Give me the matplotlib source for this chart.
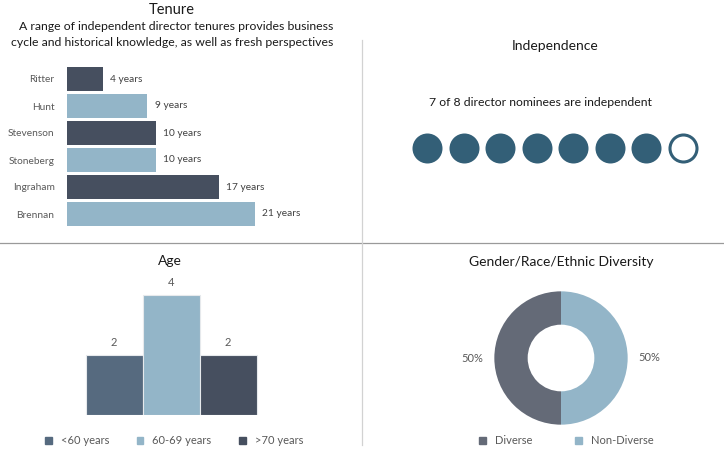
import matplotlib
matplotlib.use("Agg")
import matplotlib.pyplot as plt
from matplotlib.lines import Line2D
from matplotlib.patches import Patch

plt.rcParams['font.family'] = ['Lato', 'DejaVu Sans']

# data
directors = ["Ritter", "Hunt", "Stevenson", "Stoneberg", "Ingraham", "Brennan"]
tenure_years = [4, 9, 10, 10, 17, 21]

nominees_total = 8
nominees_independent = 7

age_groups = ["<60 years", "60-69 years", ">70 years"]
age_counts = [2, 4, 2]

diversity_labels = ["Diverse", "Non-Diverse"]
diversity_share = [50, 50]

DARK = "#464f5f"
LIGHT = "#93b5c8"
SLATE = "#566a7f"
TEAL = "#335f77"
GREY = "#646a77"
TXT = "#595959"

W, H = 724, 450
fig = plt.figure(figsize=(W / 100, H / 100), dpi=100)


def px_axes(x0, y0, x1, y1):
    # axes from pixel box (top-left origin)
    return fig.add_axes([x0 / W, 1 - y1 / H, (x1 - x0) / W, (y1 - y0) / H])


def ftext(x, y, s, **kw):
    fig.text(x / W, 1 - y / H, s, ha="center", va="center", **kw)


# ---- Tenure ----
ftext(172, 10, "Tenure", fontsize=10.5, color="#1a1a1a")
ftext(176, 26, "A range of independent director tenures provides business", fontsize=8.8, color="#1a1a1a")
ftext(172, 42, "cycle and historical knowledge, as well as fresh perspectives", fontsize=8.8, color="#1a1a1a")

ax = px_axes(67, 65.5, 335, 227.5)
cols = [DARK if i % 2 == 0 else LIGHT for i in range(len(directors))]
ax.barh(range(len(directors)), tenure_years, height=0.9, color=cols)
ax.set_xlim(0, 30)
ax.set_ylim(5.5, -0.5)
ax.set_yticks(range(len(directors)))
ax.set_yticklabels(directors, fontsize=7.3, color=TXT)
ax.tick_params(axis="y", length=0, pad=9)
ax.set_xticks([])
for s in ax.spines.values():
    s.set_visible(False)
for i, v in enumerate(tenure_years):
    ax.text(v + 0.8, i, f"{v} years", va="center", ha="left", fontsize=7.3, color="#404040")

# ---- Independence ----
ftext(555, 46, "Independence", fontsize=10, color="#1a1a1a")
ftext(540, 103, f"{nominees_independent} of {nominees_total} director nominees are independent",
      fontsize=8.8, color="#1a1a1a")
ax = px_axes(399.5, 130, 710.5, 166)
xs = list(range(nominees_total))
ax.scatter(xs[:nominees_independent], [0] * nominees_independent, s=(30 * 0.72) ** 2,
           color=TEAL, linewidths=0)
ax.scatter(xs[nominees_independent:], [0] * (nominees_total - nominees_independent),
           s=(27 * 0.72) ** 2, facecolor="white", edgecolor=TEAL, linewidths=2.2)
ax.set_xlim(-0.75, 7.75)
ax.set_ylim(-1, 1)
ax.axis("off")

# ---- Age ----
ftext(170, 261, "Age", fontsize=10, color="#1a1a1a")
ax = px_axes(28.5, 265, 313.5, 415)
bars = ax.bar(range(len(age_groups)), age_counts, width=1.0, color=[SLATE, LIGHT, DARK],
              edgecolor="#e6e9ec", linewidth=0.8)
ax.set_xlim(-1.5, 3.5)
ax.set_ylim(0, 5)
ax.axis("off")
for i, v in enumerate(age_counts):
    ax.text(i, v + 0.4, str(v), ha="center", va="center", fontsize=8, color=TXT)
handles = [Patch(color=c) for c in [SLATE, LIGHT, DARK]]
fig.legend(handles, age_groups, loc="center left", bbox_to_anchor=(35 / W, 1 - 441 / H),
           ncol=3, frameon=False, fontsize=8, handlelength=0.6, handleheight=0.6,
           handletextpad=0.8, columnspacing=2.5, labelcolor=TXT)

# ---- Diversity ----
ftext(561, 262, "Gender/Race/Ethnic Diversity", fontsize=10, color="#1a1a1a")
ax = px_axes(481, 278, 641, 438)
ax.pie(diversity_share, colors=[GREY, LIGHT], startangle=90, counterclock=True,
       wedgeprops=dict(width=0.5, linewidth=0),
       autopct=lambda p: f"{p:.0f}%", pctdistance=1.33,
       textprops=dict(fontsize=8, color=TXT))
ax.set_xlim(-1.2, 1.2)
ax.set_ylim(-1.2, 1.2)
ax.set_aspect("equal")
handles = [Patch(color=c) for c in [GREY, LIGHT]]
fig.legend(handles, diversity_labels, loc="center left", bbox_to_anchor=(469 / W, 1 - 441 / H),
           ncol=2, frameon=False, fontsize=8, handlelength=0.6, handleheight=0.6,
           handletextpad=0.8, columnspacing=3.9, labelcolor=TXT)

# dividers
fig.add_artist(Line2D([0, 1], [1 - 243 / H] * 2, transform=fig.transFigure, color="#9a9a9a", lw=0.9))
fig.add_artist(Line2D([362 / W] * 2, [1 - 40 / H, 1 - 445 / H], transform=fig.transFigure,
                      color="#d2d2d2", lw=0.9))

fig.savefig("out.png", dpi=100)
